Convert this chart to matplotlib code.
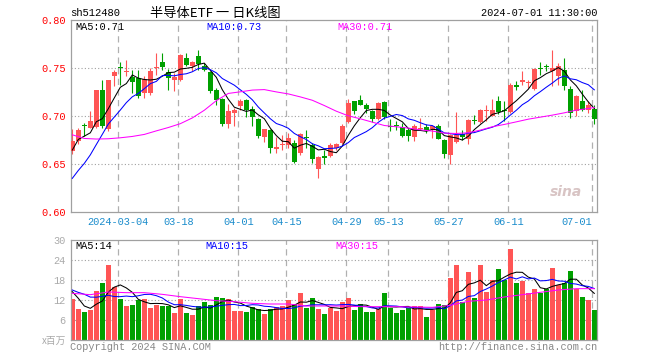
import numpy as np
import matplotlib
matplotlib.use("Agg")
import matplotlib.pyplot as plt

W, H = 660, 360

# 日K 2024-02-21 ~ 2024-07-01 (88 个交易日)
open_ = [0.6635, 0.6739, 0.6910, 0.6877, 0.6888, 0.7275, 0.6860, 0.7413, 0.7503, 0.7455,
         0.7403, 0.7396, 0.7240, 0.7240, 0.7497, 0.7562, 0.7458, 0.7372, 0.7379, 0.7604,
         0.7524, 0.7621, 0.7524, 0.7455, 0.7268, 0.7178, 0.6912, 0.7033, 0.7102, 0.7171,
         0.7074, 0.6971, 0.6777, 0.6853, 0.6652, 0.6695, 0.6695, 0.6722, 0.6611, 0.6770,
         0.6697, 0.6448, 0.6583, 0.6586, 0.6671, 0.6715, 0.6936, 0.7154, 0.7171, 0.7119,
         0.7050, 0.6964, 0.7147, 0.6901, 0.6905, 0.6888, 0.6850, 0.6784, 0.6864, 0.6888,
         0.6867, 0.6901, 0.6749, 0.6593, 0.6725, 0.6808, 0.6763, 0.6956, 0.6936, 0.7047,
         0.7005, 0.7161, 0.7057, 0.7040, 0.7313, 0.7359, 0.7342, 0.7282, 0.7496, 0.7519,
         0.7465, 0.7413, 0.7476, 0.7282, 0.7050, 0.7154, 0.7061, 0.7074]
high = [0.6867, 0.6880, 0.6929, 0.7050, 0.7275, 0.7379, 0.7380, 0.7483, 0.7559, 0.7587,
        0.7483, 0.7483, 0.7413, 0.7500, 0.7656, 0.7656, 0.7490, 0.7448, 0.7650, 0.7656,
        0.7569, 0.7690, 0.7552, 0.7465, 0.7292, 0.7189, 0.7120, 0.7085, 0.7178, 0.7178,
        0.7102, 0.6981, 0.6860, 0.6864, 0.6777, 0.6801, 0.6818, 0.6749, 0.6818, 0.6853,
        0.6715, 0.6586, 0.6645, 0.6715, 0.6720, 0.6912, 0.7178, 0.7154, 0.7223, 0.7137,
        0.7061, 0.7144, 0.7154, 0.6964, 0.6946, 0.6929, 0.6877, 0.6912, 0.6981, 0.6912,
        0.6900, 0.6912, 0.6756, 0.6810, 0.7040, 0.6849, 0.6964, 0.7012, 0.7078, 0.7119,
        0.7178, 0.7206, 0.7154, 0.7344, 0.7362, 0.7465, 0.7379, 0.7503, 0.7562, 0.7545,
        0.7690, 0.7552, 0.7604, 0.7310, 0.7223, 0.7275, 0.7154, 0.7119]
low = [0.6600, 0.6710, 0.6791, 0.6877, 0.6870, 0.6877, 0.6840, 0.7310, 0.7327, 0.7413,
       0.7240, 0.7189, 0.7189, 0.7223, 0.7431, 0.7483, 0.7275, 0.7258, 0.7360, 0.7517,
       0.7465, 0.7483, 0.7465, 0.7240, 0.7119, 0.6901, 0.6880, 0.6895, 0.7061, 0.6993,
       0.6901, 0.6773, 0.6725, 0.6611, 0.6618, 0.6645, 0.6663, 0.6507, 0.6593, 0.6663,
       0.6507, 0.6351, 0.6497, 0.6576, 0.6650, 0.6704, 0.6929, 0.7026, 0.7113, 0.7033,
       0.6936, 0.6957, 0.6964, 0.6843, 0.6853, 0.6784, 0.6739, 0.6739, 0.6853, 0.6825,
       0.6767, 0.6756, 0.6566, 0.6500, 0.6720, 0.6749, 0.6704, 0.6915, 0.6929, 0.6946,
       0.6998, 0.7026, 0.6946, 0.7033, 0.7275, 0.7327, 0.7292, 0.7275, 0.7431, 0.7465,
       0.7310, 0.7327, 0.7275, 0.6981, 0.6998, 0.7050, 0.7033, 0.6912]
close = [0.6739, 0.6853, 0.6895, 0.6946, 0.7268, 0.6901, 0.7372, 0.7458, 0.7497, 0.7460,
         0.7351, 0.7206, 0.7386, 0.7472, 0.7500, 0.7507, 0.7396, 0.7407, 0.7638, 0.7535,
         0.7559, 0.7545, 0.7476, 0.7265, 0.7171, 0.6912, 0.7050, 0.7061, 0.7154, 0.7061,
         0.6993, 0.6791, 0.6860, 0.6663, 0.6673, 0.6699, 0.6766, 0.6524, 0.6815, 0.6766,
         0.6552, 0.6576, 0.6559, 0.6697, 0.6704, 0.6901, 0.7137, 0.7050, 0.7119, 0.7078,
         0.6964, 0.7137, 0.6991, 0.6881, 0.6898, 0.6791, 0.6791, 0.6901, 0.6867, 0.6853,
         0.6895, 0.6763, 0.6600, 0.6800, 0.6800, 0.6784, 0.6957, 0.6950, 0.7061, 0.7050,
         0.7067, 0.7040, 0.7054, 0.7327, 0.7307, 0.7362, 0.7345, 0.7493, 0.7490, 0.7514,
         0.7500, 0.7524, 0.7310, 0.7033, 0.7206, 0.7067, 0.7119, 0.6964]
# 成交量 (百万)
volume = [12.3, 9.3, 8.4, 9.0, 14.7, 17.1, 22.5, 16.0, 12.3, 10.2,
          10.5, 12.0, 12.3, 9.6, 10.5, 10.2, 10.2, 8.1, 12.3, 8.1,
          7.5, 10.2, 11.5, 10.5, 12.9, 12.6, 12.3, 8.8, 8.8, 8.4,
          9.9, 9.3, 7.8, 9.3, 9.9, 10.2, 12.0, 10.8, 14.1, 9.6,
          12.6, 9.3, 7.8, 9.6, 8.8, 11.5, 12.6, 9.0, 10.8, 8.4,
          8.4, 9.3, 14.1, 9.6, 8.1, 9.0, 9.6, 10.2, 10.2, 6.9,
          9.0, 10.8, 10.4, 18.6, 22.6, 11.5, 20.4, 12.6, 22.6, 14.4,
          18.0, 21.3, 18.0, 27.3, 17.1, 17.8, 14.1, 15.3, 14.1, 15.3,
          21.6, 16.5, 17.1, 20.7, 15.3, 12.9, 12.0, 9.0]

# 窗口之前的9天 (MA5 / MA10 用)
pre_close = [0.603, 0.616, 0.606, 0.619, 0.584, 0.630, 0.6725, 0.6771, 0.6692]
pre_volume = [16.5, 14.0, 17.5, 15.0, 14.5, 19.3, 19.9, 12.5, 8.5]

# MA30 读图
ma30_x = list(range(0, 88, 2)) + [87]
ma30_p = [0.6804, 0.6766, 0.6760, 0.6763, 0.6773, 0.6787, 0.6808, 0.6845, 0.6880, 0.6920,
          0.6980, 0.7060, 0.7160, 0.7235, 0.7252, 0.7270, 0.7275, 0.7251, 0.7230, 0.7199,
          0.7164, 0.7109, 0.7050, 0.7002, 0.6971, 0.6936, 0.6901, 0.6888, 0.6874, 0.6856,
          0.6843, 0.6822, 0.6818, 0.6825, 0.6853, 0.6888, 0.6912, 0.6939, 0.6967, 0.6988,
          0.7009, 0.7033, 0.7061, 0.7078, 0.7088]
vma30_x = list(range(0, 88, 3))
vma30 = [14.0, 13.6, 14.4, 14.2, 14.2, 13.7, 13.0, 12.4, 11.8, 11.5,
         11.0, 10.8, 10.8, 10.2, 10.2, 10.2, 10.0, 10.0, 10.0, 9.9,
         9.8, 10.4, 11.6, 12.0, 12.9, 13.6, 14.3, 15.0, 15.4, 15.4]

tick_idx = [8, 18, 28, 36, 46, 53, 63, 73, 87]
tick_lbl = ['2024-03-04', '03-18', '04-01', '04-15', '04-29', '05-13', '05-27', '06-11', '07-01']

RED = '#ff5555'
GREEN = '#00a000'
MONO = 'Liberation Mono'
CJK = ['Noto Sans CJK SC', 'DejaVu Sans']


def ma(prior, data, n):
    s = np.concatenate([prior, data])
    return np.convolve(s, np.ones(n) / n, mode='valid')[-len(data):]


o = np.array(open_); c = np.array(close)
hi = np.array(high); lo = np.array(low)
v = np.array(volume)
x = np.arange(len(c))
cols = [RED if c[i] >= o[i] else GREEN for i in x]


def fx(px):
    return px / W


def fy(py):
    return 1 - py / H


L, R = 70.7, 597
fig = plt.figure(figsize=(W / 100, H / 100), dpi=100)
ax = fig.add_axes([fx(L), fy(212), fx(R) - fx(L), fy(20) - fy(212)])
axv = fig.add_axes([fx(L), fy(340), fx(R) - fx(L), fy(240) - fy(340)])

xl = (-0.27, 87.45)
for a in (ax, axv):
    a.set_xlim(*xl)
    for s in a.spines.values():
        s.set_color('#a0a0a0')
        s.set_linewidth(0.9)
    a.set_xticks([])
    a.tick_params(axis='y', length=0, pad=3.5)
    for t in tick_idx:
        a.axvline(t - 0.33, color='#b0b0b0', lw=0.9, ls=(0, (5, 3.5)), zorder=0)

# 价格
ax.set_ylim(0.60, 0.80)
for yv in (0.65, 0.70, 0.75):
    ax.axhline(yv, color='#a0a0a0', lw=0.8, ls=(0, (1, 2)), zorder=0)
ax.set_yticks([0.60, 0.65, 0.70, 0.75, 0.80])
ax.set_yticklabels(['0.60', '0.65', '0.70', '0.75', '0.80'], family=MONO, fontsize=7.4, color='red')

ax.vlines(x, lo, hi, colors=cols, lw=0.8, zorder=2)
body = np.maximum(np.abs(c - o), 0.0011)
ax.bar(x, body, bottom=np.minimum(o, c), width=0.75, color=cols, lw=0, zorder=3)

ax.plot(x, ma(pre_close, c, 5), color='black', lw=0.75, zorder=4)
ax.plot(x, ma(pre_close, c, 10), color='#0000ff', lw=0.75, zorder=4)
ax.plot(ma30_x, ma30_p, color='#ff00ff', lw=0.75, zorder=4)

ax.text(0.972, 0.105, 'sina', transform=ax.transAxes, ha='right', va='center',
        fontsize=10, fontstyle='italic', fontweight='bold', color='#d8c4c4', family='DejaVu Sans')

# 成交量
axv.set_ylim(0, 30)
for yv in (6, 12, 18, 24):
    axv.axhline(yv, color='#a0a0a0', lw=0.8, ls=(0, (1, 2)), zorder=0)
axv.set_yticks([6, 12, 18, 24, 30])
axv.set_yticklabels(['6', '12', '18', '24', '30'], family=MONO, fontsize=7.4, color='#aaaaaa')
axv.bar(x, v, width=0.8, color=cols, lw=0, zorder=2)
axv.plot(x, ma(pre_volume, v, 5), color='black', lw=0.75, zorder=4)
axv.plot(x, ma(pre_volume, v, 10), color='#0000ff', lw=0.75, zorder=4)
axv.plot(vma30_x, vma30, color='#ff00ff', lw=0.75, zorder=4)

# 文字
fig.text(fx(70), fy(13), 'sh512480', family=MONO, fontsize=7.6, va='center', ha='left')
fig.text(fx(150), fy(13), '半导体ETF 一 日K线图', family=CJK, fontsize=9.5, va='center', ha='left')
fig.text(fx(597), fy(13), '2024-07-01 11:30:00', family=MONO, fontsize=7.4, va='center', ha='right')

m5 = ma(pre_close, c, 5)[-1]; m10 = ma(pre_close, c, 10)[-1]
fig.text(fx(75), fy(27), 'MA5:%.2f' % m5, family=MONO, fontsize=7.4, va='center', color='black')
fig.text(fx(206), fy(27), 'MA10:%.2f' % m10, family=MONO, fontsize=7.4, va='center', color='#0000ff')
fig.text(fx(337), fy(27), 'MA30:%.2f' % ma30_p[-1], family=MONO, fontsize=7.4, va='center', color='#ff00ff')

vm5 = ma(pre_volume, v, 5)[-1]; vm10 = ma(pre_volume, v, 10)[-1]
fig.text(fx(75), fy(246), 'MA5:%d' % round(vm5), family=MONO, fontsize=7.4, va='center', color='black')
fig.text(fx(205), fy(246), 'MA10:%d' % round(vm10), family=MONO, fontsize=7.4, va='center', color='#0000ff')
fig.text(fx(335), fy(246), 'MA30:%d' % round(vma30[-1]), family=MONO, fontsize=7.4, va='center', color='#ff00ff')

for t, lb in zip(tick_idx, tick_lbl):
    xd = ax.transData.transform((t - 0.33, 0))[0] / W
    ha = 'right' if t == tick_idx[-1] else 'center'
    fig.text(xd, fy(222), lb, family=MONO, fontsize=7.4, va='center', ha=ha, color='#1a8ccc')

fig.text(fx(66), fy(341), 'x百万', family=CJK, fontsize=7, va='center', ha='right', color='#aaaaaa')
fig.text(fx(70), fy(347), 'Copyright 2024 SINA.COM', family=MONO, fontsize=7.4, va='center', color='#888888')
fig.text(fx(597), fy(347), 'http://finance.sina.com.cn', family=MONO, fontsize=7.4, va='center',
         ha='right', color='#888888')

fig.savefig('out.png', dpi=100)
